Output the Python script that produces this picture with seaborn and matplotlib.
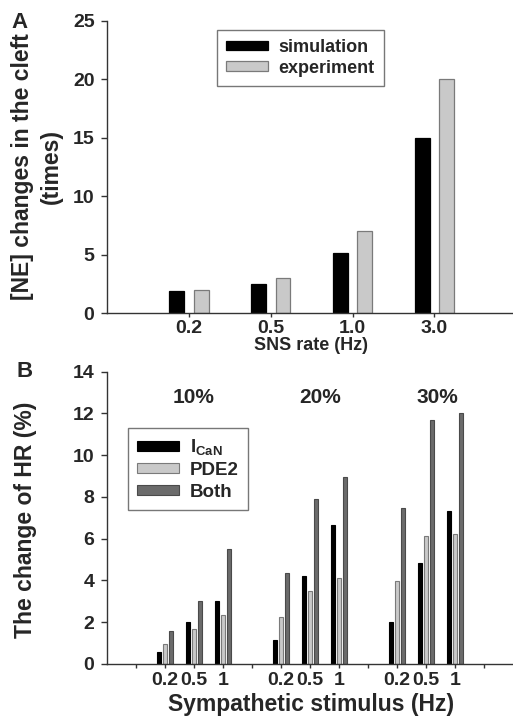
import matplotlib
matplotlib.use("Agg")
import matplotlib.pyplot as plt
import numpy as np
import pandas as pd
import seaborn as sns

# ---------------- data ----------------
# Panel A
sns_rates = ["0.2", "0.5", "1.0", "3.0"]
ne_simulation = [1.9, 2.5, 5.1, 15.0]
ne_experiment = [2.0, 3.0, 7.0, 20.0]
series_a = ["simulation", "experiment"]
yticks_a = [0, 5, 10, 15, 20, 25]

# Panel B
levels = ["10%", "20%", "30%"]
stim_labels = ["0.2", "0.5", "1"]
hr_ican = [0.57, 2.01, 3.00, 1.15, 4.22, 6.67, 2.01, 4.82, 7.32]
hr_pde2 = [0.96, 1.69, 2.33, 2.26, 3.52, 4.10, 3.99, 6.11, 6.22]
hr_both = [1.60, 3.02, 5.52, 4.37, 7.92, 8.97, 7.47, 11.70, 12.02]
series_b = ["ICaN", "PDE2", "Both"]
legend_b = [r"$\mathbf{I_{CaN}}$", "PDE2", "Both"]
yticks_b = [0, 2, 4, 6, 8, 10, 12, 14]

# ---------------- style ----------------
sns.set_theme(style="ticks")
plt.rcParams["font.family"] = ["Liberation Sans", "DejaVu Sans"]
plt.rcParams["font.weight"] = "bold"
plt.rcParams["mathtext.fontset"] = "custom"
plt.rcParams["mathtext.bf"] = "Liberation Sans:bold"
plt.rcParams["mathtext.rm"] = "Liberation Sans:bold"
plt.rcParams["mathtext.it"] = "Liberation Sans:bold"

W, H = 513, 717
fig = plt.figure(figsize=(W / 100, H / 100), dpi=100)

def fx(px):
    return px / W

def fy(py):
    return 1 - py / H

spine_c = "#333333"
black, light, dark = "#000000", "#c9c9c9", "#6b6b6b"
edges = {black: "#000000", light: "#7a7a7a", dark: "#4a4a4a"}

def style_axes(ax, xpad):
    sns.despine(ax=ax)
    for s in ("left", "bottom"):
        ax.spines[s].set_color(spine_c)
        ax.spines[s].set_linewidth(1.0)
    ax.tick_params(axis="y", direction="out", length=4, width=1, color=spine_c,
                   labelsize=14, pad=5)
    ax.tick_params(axis="x", direction="out", length=3, width=1, color=spine_c,
                   labelsize=14, pad=xpad)
    for lab in ax.get_xticklabels() + ax.get_yticklabels():
        lab.set_fontweight("bold")

# ---------------- panel A ----------------
axA = fig.add_axes([fx(107), fy(313), fx(513 - 107), 292 / H])
df_a = pd.DataFrame({
    "rate": sns_rates * 2,
    "value": ne_simulation + ne_experiment,
    "series": [s for s in series_a for _ in sns_rates],
})
sns.barplot(data=df_a, x="rate", y="value", hue="series", order=sns_rates,
            hue_order=series_a, palette=[black, light], saturation=1,
            width=0.6, gap=0.4, errorbar=None, linewidth=0.9, ax=axA)
for cont, col in zip(axA.containers, [black, light]):
    for p in cont.patches:
        p.set_edgecolor(edges[col])
axA.set_xlim(-1, 3.96)
axA.set_ylim(0, 25)
axA.set_yticks(yticks_a)
style_axes(axA, 2.0)
axA.set_xlabel("SNS rate (Hz)", fontsize=13, fontweight="bold")
axA.xaxis.set_label_coords(fx(311), fy(346), transform=fig.transFigure)
axA.xaxis.label.set_va("center")
axA.set_ylabel("[NE] changes in the cleft\n(times)", fontsize=16.5, fontweight="bold",
               linespacing=1.3)
axA.yaxis.set_label_coords(fx(37), fy(167), transform=fig.transFigure)
axA.yaxis.label.set_va("center")
if axA.get_legend() is not None:
    axA.get_legend().remove()
axA.legend([c.patches[0] for c in axA.containers], series_a,
           loc="upper left", bbox_to_anchor=(fx(217), fy(30)),
           bbox_transform=fig.transFigure, borderaxespad=0,
           prop={"size": 13, "weight": "bold"}, frameon=True, fancybox=False,
           edgecolor="#777777", framealpha=1, handlelength=2.3, handleheight=0.45,
           handletextpad=0.6, labelspacing=0.2, borderpad=0.5)
axA.get_legend().get_frame().set_linewidth(1.0)

# ---------------- panel B ----------------
axB = fig.add_axes([fx(107), fy(664), fx(513 - 107), 292.3 / H])
rows = []
for g, lev in enumerate(levels):
    for k, st in enumerate(stim_labels):
        i = g * 3 + k
        pos = 4 * g + k + 2
        for ser, vals in zip(series_b, [hr_ican, hr_pde2, hr_both]):
            rows.append({"pos": pos, "value": vals[i], "series": ser})
df_b = pd.DataFrame(rows)
sns.barplot(data=df_b, x="pos", y="value", hue="series", hue_order=series_b,
            palette=[black, light, dark], saturation=1, native_scale=True,
            width=0.63, gap=0.29, errorbar=None, linewidth=0.8, ax=axB)
for cont, col in zip(axB.containers, [black, light, dark]):
    for p in cont.patches:
        p.set_edgecolor(edges[col])
axB.set_xlim(0, 14)
axB.set_ylim(0, 14)
axB.set_yticks(yticks_b)
tick_pos = list(range(1, 14))
tick_lab = []
for t in tick_pos:
    r = (t - 1) % 4
    tick_lab.append("" if r == 0 else stim_labels[r - 1])
axB.set_xticks(tick_pos)
axB.set_xticklabels(tick_lab)
style_axes(axB, 3.0)
axB.set_xlabel("Sympathetic stimulus (Hz)", fontsize=16.5, fontweight="bold")
axB.xaxis.set_label_coords(fx(311), fy(704), transform=fig.transFigure)
axB.xaxis.label.set_va("center")
axB.set_ylabel("The change of HR (%)", fontsize=16.5, fontweight="bold")
axB.yaxis.set_label_coords(fx(26), fy(520), transform=fig.transFigure)
axB.yaxis.label.set_va("center")
for lev, xg in zip(levels, [2.97, 7.34, 11.38]):
    axB.text(xg, 12.78, lev, ha="center", va="center", fontsize=15,
             fontweight="bold")
if axB.get_legend() is not None:
    axB.get_legend().remove()
axB.legend([c.patches[0] for c in axB.containers], legend_b,
           loc="upper left", bbox_to_anchor=(fx(128), fy(428)),
           bbox_transform=fig.transFigure, borderaxespad=0,
           prop={"size": 13.5, "weight": "bold"}, frameon=True, fancybox=False,
           edgecolor="#777777", framealpha=1, handlelength=2.2, handleheight=0.45,
           handletextpad=0.6, labelspacing=0.25, borderpad=0.5)
axB.get_legend().get_frame().set_linewidth(1.0)

# panel letters
fig.text(fx(20), fy(12), "A", ha="center", va="top", fontsize=16, fontweight="bold")
fig.text(fx(24.5), fy(361), "B", ha="center", va="top", fontsize=16, fontweight="bold")

fig.savefig("out.png", dpi=100)
